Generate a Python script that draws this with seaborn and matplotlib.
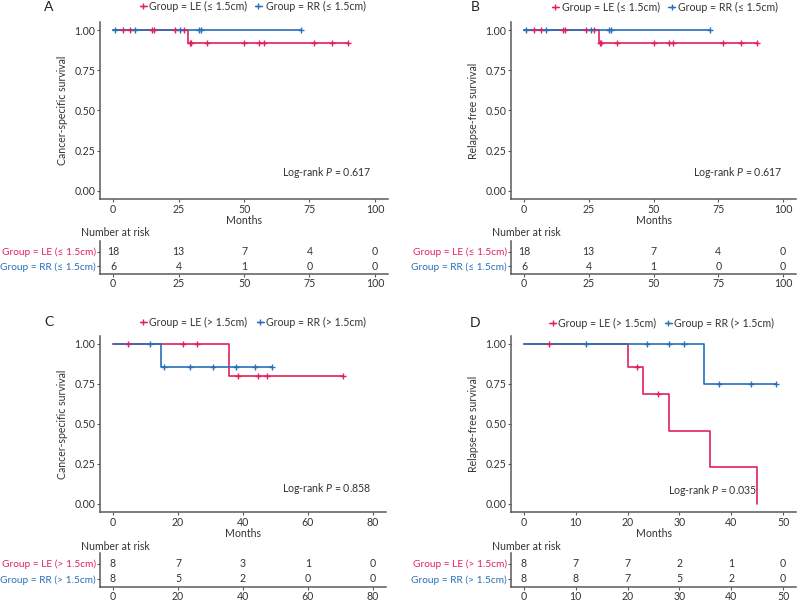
import numpy as np
import matplotlib
matplotlib.use("Agg")
import matplotlib.pyplot as plt
from matplotlib.lines import Line2D
import seaborn as sns

# ---------------- data ----------------
# Panels A and B (tumour <= 1.5 cm): survival times (months) and events (1 = event)
small_le_time = [3.8, 6.6, 14.9, 15.7, 23.8, 27.2, 28.8, 29.2, 29.7, 29.7, 35.8, 50.1, 55.9, 57.7, 76.7, 83.7, 89.8, 89.8]
small_le_event = [0, 0, 0, 0, 0, 0, 1, 0, 0, 0, 0, 0, 0, 0, 0, 0, 0, 0]
small_rr_time = [0.9, 8.5, 25.7, 32.8, 33.7, 71.8]
small_rr_event = [0, 0, 0, 0, 0, 0]

# Panel C (> 1.5 cm, cancer-specific survival)
css_le_time = [4.6, 21.4, 25.7, 35.7, 38.6, 44.6, 47.3, 70.7]
css_le_event = [0, 0, 0, 1, 0, 0, 0, 0]
css_rr_time = [11.5, 14.8, 15.6, 23.7, 30.9, 37.8, 43.8, 48.9]
css_rr_event = [0, 1, 0, 0, 0, 0, 0, 0]

# Panel D (> 1.5 cm, relapse-free survival)
rfs_le_time = [4.9, 20.0, 21.8, 22.9, 25.8, 27.9, 35.9, 44.9]
rfs_le_event = [0, 1, 0, 1, 0, 1, 1, 1]
rfs_rr_time = [11.9, 23.8, 27.9, 30.8, 34.8, 37.7, 43.9, 48.7]
rfs_rr_event = [0, 0, 0, 0, 1, 0, 0, 0]

# Number-at-risk tables
risk_ticks_small = [0, 25, 50, 75, 100]
risk_small_le = [18, 13, 7, 4, 0]
risk_small_rr = [6, 4, 1, 0, 0]
risk_ticks_c = [0, 20, 40, 60, 80]
risk_c_le = [8, 7, 3, 1, 0]
risk_c_rr = [8, 5, 2, 0, 0]
risk_ticks_d = [0, 10, 20, 30, 40, 50]
risk_d_le = [8, 7, 7, 2, 1, 0]
risk_d_rr = [8, 8, 7, 5, 2, 0]

labels_small = ["Group = LE (≤ 1.5cm)", "Group = RR (≤ 1.5cm)"]
labels_large = ["Group = LE (> 1.5cm)", "Group = RR (> 1.5cm)"]
pvalues = ["0.617", "0.617", "0.858", "0.035"]
ylabels = ["Cancer-specific survival", "Relapse-free survival",
           "Cancer-specific survival", "Relapse-free survival"]
panel_letters = ["A", "B", "C", "D"]

# ---------------- style ----------------
RED = "#E2215C"
BLUE = "#2870B8"
AXC = "#5a5a5a"
TXT = "#333333"

sns.set_theme(style="ticks")
plt.rcParams["font.family"] = ["Lato", "DejaVu Sans"]
plt.rcParams["mathtext.fontset"] = "custom"
plt.rcParams["mathtext.rm"] = "Lato"
plt.rcParams["mathtext.it"] = "Lato:italic"
FS = 7.6

W, H = 800, 602
fig = plt.figure(figsize=(8.0, 6.02), dpi=100)


def rect(x0, y0, x1, y1):
    return [x0 / W, 1 - y1 / H, (x1 - x0) / W, (y1 - y0) / H]


def fx(x):
    return x / W


def fy(y):
    return 1 - y / H


def km(times, events):
    t = np.asarray(times, float)
    e = np.asarray(events, int)
    s = 1.0
    sx, sy, cx, cy = [0.0], [1.0], [], []
    for u in np.unique(t):
        n = (t >= u).sum()
        d = ((t == u) & (e == 1)).sum()
        c = ((t == u) & (e == 0)).sum()
        if d > 0:
            s *= 1 - d / n
            sx.append(u)
            sy.append(s)
        if c > 0:
            cx.append(u)
            cy.append(s)
    if sx[-1] < t.max():
        sx.append(t.max())
        sy.append(s)
    return sx, sy, cx, cy


def style_axis(ax):
    sns.despine(ax=ax)
    for sp in ("left", "bottom"):
        ax.spines[sp].set_color(AXC)
        ax.spines[sp].set_linewidth(1.1)
    ax.tick_params(axis="both", length=2.2, width=0.8, color=AXC,
                   labelsize=FS, labelcolor=TXT, pad=1.2)
    ax.set_facecolor("none")


def survival_panel(rect_px, xlim, xticks, groups, ylabel, pval, ptext_px):
    ax = fig.add_axes(rect(*rect_px))
    for (tt, ee, col) in groups:
        sx, sy, cx, cy = km(tt, ee)
        sns.lineplot(x=sx, y=sy, drawstyle="steps-post", estimator=None,
                     sort=False, color=col, linewidth=1.2, ax=ax)
        sns.scatterplot(x=cx, y=cy, marker="+", s=18, linewidth=1.0,
                        color=col, ax=ax, zorder=3)
    ax.set_xlim(*xlim)
    ax.set_ylim(-0.05, 1.05)
    ax.set_xticks(xticks)
    ax.set_yticks([0, 0.25, 0.5, 0.75, 1.0])
    ax.set_yticklabels(["0.00", "0.25", "0.50", "0.75", "1.00"])
    style_axis(ax)
    ax.set_xlabel("Months", fontsize=FS, color=TXT, labelpad=0.5)
    ax.set_ylabel(ylabel, fontsize=FS, color=TXT)
    ax.yaxis.set_label_coords(-0.112, 0.5)
    fig.text(fx(ptext_px[0]), fy(ptext_px[1]), "Log-rank $P$ = " + pval,
             fontsize=FS, color=TXT, ha="left", va="center")
    return ax


def risk_table(rect_px, xlim, ticks, le, rr, labels, title_px):
    ax = fig.add_axes(rect(*rect_px))
    top, bot = rect_px[1], rect_px[3]
    # row positions: LE row 10.7 px below top, RR row 8 px above bottom
    k = (bot - 8 - (top + 10.7))
    ymax = 1 + 10.7 / k
    ymin = -8 / k
    ax.set_xlim(*xlim)
    ax.set_ylim(ymin, ymax)
    for x, a, b in zip(ticks, le, rr):
        ax.text(x, 1, str(a), ha="center", va="center", fontsize=FS, color=TXT)
        ax.text(x, 0, str(b), ha="center", va="center", fontsize=FS, color=TXT)
    ax.set_xticks(ticks)
    ax.set_yticks([1, 0])
    ax.set_yticklabels(labels)
    style_axis(ax)
    ax.tick_params(axis="y", pad=0.8)
    ax.tick_params(axis="x", pad=0.8)
    for lab, col in zip(ax.get_yticklabels(), [RED, BLUE]):
        lab.set_color(col)
        lab.set_fontsize(7.3)
    fig.text(fx(title_px[0]), fy(title_px[1]), "Number at risk",
             fontsize=FS, color=TXT, ha="left", va="center")
    return ax


def legend_row(y, entries):
    for (mx, tx, lab, col) in entries:
        fig.add_artist(Line2D([fx(mx - 3.5), fx(mx + 3.5)], [fy(y), fy(y)],
                              transform=fig.transFigure, color=col, lw=1.0))
        fig.add_artist(Line2D([fx(mx)], [fy(y)], transform=fig.transFigure,
                              color=col, marker="+", markersize=5, mew=1.0, lw=0))
        fig.text(fx(tx), fy(y), lab, fontsize=FS, color=TXT,
                 ha="left", va="center")


# ---------------- panels ----------------
survival_panel((100, 22, 388, 199), (-5, 105), risk_ticks_small,
               [(small_le_time, small_le_event, RED),
                (small_rr_time, small_rr_event, BLUE)],
               ylabels[0], pvalues[0], (282, 173))
risk_table((100, 241, 388, 274), (-5, 105), risk_ticks_small,
           risk_small_le, risk_small_rr, labels_small, (81, 233))

survival_panel((511, 22, 796, 199), (-5, 105), risk_ticks_small,
               [(small_le_time, small_le_event, RED),
                (small_rr_time, small_rr_event, BLUE)],
               ylabels[1], pvalues[1], (693, 173))
risk_table((511, 241, 796, 274), (-5, 105), risk_ticks_small,
           risk_small_le, risk_small_rr, labels_small, (492, 233))

survival_panel((100, 336, 386, 512), (-4, 84), risk_ticks_c,
               [(css_le_time, css_le_event, RED),
                (css_rr_time, css_rr_event, BLUE)],
               ylabels[2], pvalues[2], (282, 489))
risk_table((100, 553, 386, 587), (-4, 84), risk_ticks_c,
           risk_c_le, risk_c_rr, labels_large, (81, 546))

survival_panel((511, 336, 796, 512), (-2.5, 52.5), risk_ticks_d,
               [(rfs_le_time, rfs_le_event, RED),
                (rfs_rr_time, rfs_rr_event, BLUE)],
               ylabels[3], pvalues[3], (668, 490))
risk_table((511, 553, 796, 587), (-2.5, 52.5), risk_ticks_d,
           risk_d_le, risk_d_rr, labels_large, (492, 547))

# legends
legend_row(6, [(143, 149, labels_small[0], RED), (258, 265.5, labels_small[1], BLUE)])
legend_row(7, [(555, 561.5, labels_small[0], RED), (671.5, 678, labels_small[1], BLUE)])
legend_row(322, [(143, 149, labels_large[0], RED), (260, 266.5, labels_large[1], BLUE)])
legend_row(323, [(552.5, 558, labels_large[0], RED), (668, 674, labels_large[1], BLUE)])

# panel letters
for letter, (x, y) in zip(panel_letters, [(49, 7), (475, 7), (49, 322), (475, 323)]):
    fig.text(fx(x), fy(y), letter, fontsize=10, color="#222222",
             ha="center", va="center")

fig.savefig("out.png", dpi=100)
